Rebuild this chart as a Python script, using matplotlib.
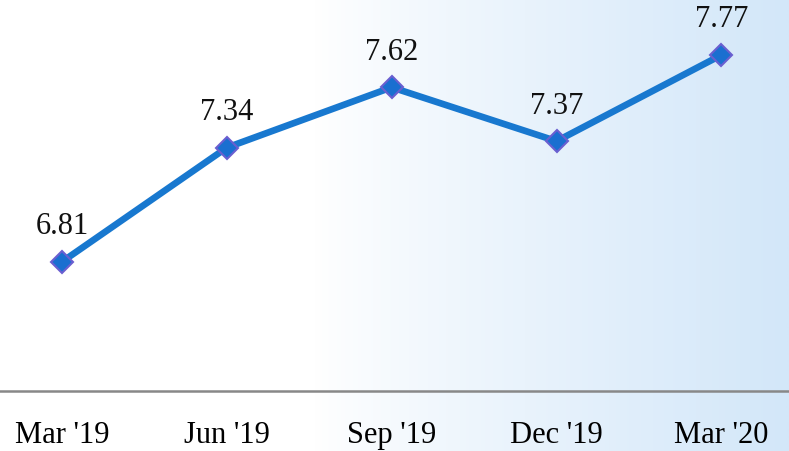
import numpy as np
import matplotlib
matplotlib.use("Agg")
import matplotlib.pyplot as plt
from matplotlib.colors import LinearSegmentedColormap

quarters = ["Mar '19", "Jun '19", "Sep '19", "Dec '19", "Mar '20"]
values = [6.81, 7.34, 7.62, 7.37, 7.77]

plt.rcParams['font.family'] = ['Liberation Serif', 'DejaVu Serif']

fig = plt.figure(figsize=(7.89, 4.52), dpi=100)

# background gradient: white on the left, pale blue on the right
bg = fig.add_axes([0, 0, 1, 1], zorder=0)
grad = np.linspace(0, 1, 400)
grad = np.clip((grad - 0.40) / 0.60, 0, 1) ** 0.85
cmap = LinearSegmentedColormap.from_list("bg", ["#ffffff", "#d3e7f9"])
bg.imshow(grad[None, :], aspect="auto", cmap=cmap, extent=[0, 1, 0, 1])
bg.axis("off")

ax = fig.add_axes([0, 60 / 452, 1, 392 / 452], zorder=1)
ax.patch.set_alpha(0)
x = np.arange(len(quarters))
ax.plot(x, values, color="#1878cf", lw=4.8, marker="D", markersize=11,
        markerfacecolor="#1a6fd0", markeredgecolor="#6a5fd0", markeredgewidth=1.5,
        solid_capstyle="butt")
for xi, v in zip(x, values):
    ax.annotate(f"{v:.2f}", (xi, v), xytext=(0, 26), textcoords="offset points",
                ha="center", va="center", fontsize=22, color="#111111")

ax.set_xlim(-0.376, 4.41)
ax.set_ylim(6.21, 8.03)
ax.set_yticks([])
ax.set_xticks(x)
ax.set_xticklabels(quarters, fontsize=22)
ax.tick_params(axis="x", length=0, pad=21)
for s in ["top", "left", "right"]:
    ax.spines[s].set_visible(False)
ax.spines["bottom"].set_color("#888888")
ax.spines["bottom"].set_linewidth(1.8)

fig.savefig("out.png", dpi=100)
